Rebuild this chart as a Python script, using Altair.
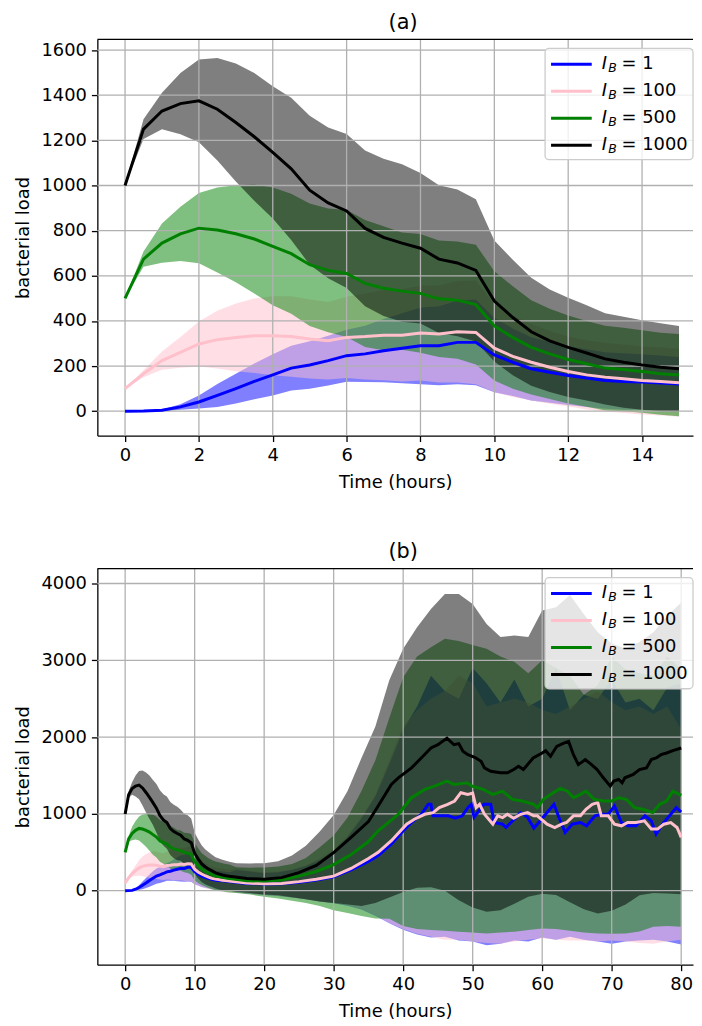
import altair as alt
import pandas as pd

FONT = "DejaVu Sans"
SERIES = ["1", "100", "500", "1000"]
COLORS = ["#0000ff", "#ffc0cb", "#008000", "#000000"]

# ---------------- Panel (a): 0-15 h, every 0.5 h ----------------
t_a = [0, 0.5, 1, 1.5, 2, 2.5, 3, 3.5, 4, 4.5, 5, 5.5, 6, 6.5, 7, 7.5,
       8, 8.5, 9, 9.5, 10, 10.5, 11, 11.5, 12, 12.5, 13, 13.5, 14, 14.5, 15]

blue_a_mean = [0, 1, 4, 19, 41, 70, 100, 132, 161, 191, 205, 224, 246, 254, 268, 279,
               290, 290, 305, 305, 249, 217, 188, 173, 158, 147, 136, 132, 129, 125, 120]
blue_a_sd = [0, 1, 4, 12, 29, 51, 66, 79, 91, 99, 105, 110, 115, 125, 140, 155,
             170, 175, 185, 190, 165, 150, 140, 135, 130, 128, 125, 125, 123, 122, 120]
pink_a_mean = [100, 166, 224, 261, 298, 317, 327, 334, 334, 331, 320, 312, 327, 331, 337, 337,
               346, 342, 352, 349, 279, 243, 217, 195, 176, 161, 151, 144, 136, 132, 126]
pink_a_sd = [0, 15, 40, 68, 100, 128, 150, 165, 175, 178, 175, 172, 180, 190, 200, 205,
             210, 215, 225, 230, 195, 180, 170, 162, 155, 153, 152, 152, 151, 151, 151]
green_a_mean = [500, 674, 745, 786, 811, 803, 786, 763, 730, 698, 649, 624, 610, 566, 545, 532,
                522, 498, 492, 472, 378, 327, 283, 254, 229, 210, 191, 185, 176, 166, 160]
green_a_sd = [0, 34, 87, 120, 156, 188, 215, 242, 261, 266, 271, 274, 281, 281, 275, 260,
              263, 258, 260, 265, 242, 227, 209, 200, 195, 190, 188, 185, 183, 182, 182]
black_a_mean = [1000, 1250, 1330, 1363, 1375, 1338, 1279, 1216, 1147, 1074, 979, 923, 887, 810, 770, 745,
                722, 674, 657, 624, 488, 415, 352, 312, 283, 258, 232, 217, 205, 195, 188]
black_a_sd = [0, 44, 81, 136, 183, 227, 261, 283, 293, 315, 330, 334, 341, 345, 348, 349,
              333, 327, 325, 315, 268, 256, 239, 227, 220, 211, 202, 202, 198, 195, 190]

# ---------------- Panel (b): 0-80 h ----------------
# mean curves after 15 h (first 15 h are the same runs as panel (a))
blue_b_t = [17.5, 20, 22.5, 25, 27.5, 30, 32.5, 35, 36.4, 38.3, 40, 41.2, 42.6, 43.6, 44,
            44.3, 45.2, 46.5, 47.5, 48.5, 49.3, 49.8, 50.2, 50.7, 51.6, 52.6, 53.1, 54.3, 54.8, 55.5,
            56.9, 57.9, 58.8, 59.3, 60.5, 61.7, 62.4, 63.3, 64.3, 65.5, 66.4, 67.6, 68.6, 69.5, 70.4,
            71.4, 72.3, 73.5, 74.8, 75.7, 76.4, 77.3, 78.5, 79.3, 80]
blue_b_v = [95, 88, 90, 110, 140, 180, 270, 380, 458, 608, 781, 888, 995, 1125, 1125,
            975, 975, 975, 944, 975, 1082, 1125, 957, 1017, 1125, 1125, 888, 866, 823, 888,
            1017, 957, 815, 866, 995, 1125, 957, 759, 866, 888, 845, 975, 995, 995, 1103,
            888, 845, 845, 975, 910, 736, 866, 995, 1082, 1025]
pink_b_t = [17.5, 20, 22.5, 25, 27.5, 30, 32.5, 35, 36.4, 38.3, 40.5, 41.6, 43.1, 44.3, 45.2,
            46.4, 47.4, 48.3, 49.3, 50, 50.5, 51, 51.7, 52.9, 53.6, 54.3, 55, 55.9, 56.9, 57.9,
            58.8, 59.3, 60.7, 61.8, 62.8, 63.5, 64.5, 65.5, 66.3, 67.2, 68, 68.5, 69.5, 70.4, 71.4,
            72.3, 73.5, 74.7, 75.7, 76.6, 77.5, 78.5, 79.4, 80]
pink_b_v = [100, 90, 95, 118, 150, 190, 290, 420, 500, 651, 866, 931, 995, 1017, 1082,
            1125, 1168, 1276, 1254, 1270, 1082, 1125, 995, 866, 975, 952, 995, 944, 995, 1017,
            975, 975, 866, 823, 866, 888, 975, 975, 1060, 1125, 1146, 975, 975, 866, 845,
            888, 888, 910, 802, 802, 866, 888, 823, 694]
green_b_t = [17.5, 20, 22.5, 25, 27.5, 30, 32.5, 35, 36.4, 39.3, 41.2, 43.1, 44.5, 46.3, 47.3,
             49.2, 49.9, 51.5, 52.9, 54.3, 55.7, 57.1, 58.8, 59.3, 60.2, 61.2, 62.6, 63.6, 64.5, 65.5,
             66.3, 67.5, 68.8, 70, 71, 72.1, 73.3, 74.5, 75.9, 76.9, 77.9, 78.8, 80]
green_b_v = [130, 125, 140, 190, 250, 340, 470, 640, 780, 995, 1211, 1319, 1362, 1427, 1384,
             1405, 1362, 1319, 1254, 1297, 1189, 1168, 1125, 1082, 1189, 1254, 1332, 1297, 1211, 1254,
             1297, 1189, 1168, 1168, 1211, 1189, 1082, 1060, 1017, 1125, 1168, 1297, 1241]
black_b_t = [17.5, 20, 22.5, 25, 27.5, 30, 32.5, 35, 36.4, 38.3, 39.3, 41.2, 42.6, 44, 45,
             46.3, 47.3, 48, 48.6, 49.3, 50.3, 51.2, 51.7, 52.6, 54, 55, 55.9, 56.6, 57.3, 58.7,
             60, 60.5, 61.2, 62.1, 63.1, 63.8, 64.5, 65.2, 66.2, 67.1, 67.9, 68.8, 69.8, 70.3, 71,
             71.5, 71.9, 73.1, 74, 75, 75.7, 76.4, 77.1, 77.9, 78.8, 80]
black_b_v = [160, 148, 170, 235, 330, 495, 694, 900, 1104, 1383, 1470, 1599, 1728, 1858, 1901,
             1987, 1901, 1915, 1815, 1771, 1738, 1686, 1599, 1556, 1535, 1535, 1578, 1621, 1578, 1728,
             1793, 1823, 1750, 1880, 1922, 1944, 1771, 1642, 1707, 1642, 1578, 1470, 1362, 1427, 1448,
             1405, 1470, 1513, 1578, 1599, 1707, 1728, 1771, 1793, 1823, 1858]

# spread bands after 15 h (lower / upper edge), every 2 h
band_b_t = [16, 18, 20, 22, 24, 26, 28, 30, 32, 34, 36, 38, 40, 42, 44, 46, 48,
            50, 52, 54, 56, 58, 60, 62, 64, 66, 68, 70, 72, 74, 76, 78, 80]
blue_b_lo = [-25, -40, -55, -70, -90, -110, -140, -165, -195, -245, -325, -425, -510, -570, -610, -600, -650,
             -660, -710, -690, -650, -660, -610, -640, -600, -640, -660, -690, -660, -650, -640, -660, -700]
blue_b_hi = [270, 250, 230, 240, 270, 320, 400, 520, 700, 940, 1230, 1650, 2100, 2400, 2800, 2600, 2500,
             2900, 2700, 2450, 2750, 2400, 2500, 2900, 2350, 2550, 2500, 2750, 2450, 2500, 2350, 2650, 2700]
pink_b_lo = [-30, -40, -55, -70, -90, -110, -140, -160, -190, -240, -320, -420, -500, -560, -600, -640, -640,
             -660, -680, -690, -660, -640, -620, -640, -650, -650, -660, -650, -660, -680, -690, -660, -640]
pink_b_hi = [290, 260, 240, 250, 280, 330, 420, 540, 720, 960, 1250, 1700, 2150, 2350, 2500, 2600, 2800,
             2700, 2400, 2450, 2500, 2450, 2350, 2300, 2400, 2500, 2600, 2450, 2350, 2400, 2300, 2400, 2100]
green_b_lo = [-30, -50, -80, -100, -130, -160, -200, -254, -290, -330, -362, -365, -460, -500, -512, -520, -534,
              -545, -556, -545, -534, -512, -491, -500, -520, -545, -556, -562, -556, -530, -469, -460, -469]
green_b_hi = [306, 300, 302, 315, 349, 427, 565, 720, 953, 1298, 1700, 2250, 2780, 3050, 3170, 3280, 3250,
              3200, 3150, 3050, 2980, 2830, 3000, 2900, 2800, 2550, 2680, 3050, 2880, 2830, 2800, 3050, 2890]
black_b_lo = [-15, -30, -50, -60, -85, -110, -140, -160, -180, -200, -160, -90, -17, 40, 45, 0, -124,
              -220, -275, -253, -170, -80, -39, -55, -150, -240, -297, -260, -180, -60, -30, -35, -47]
black_b_hi = [358, 355, 358, 384, 457, 586, 772, 985, 1298, 1728, 2138, 2740, 3151, 3431, 3668, 3862, 3862,
              3732, 3474, 3302, 3323, 3302, 3650, 3690, 3850, 3600, 3366, 3220, 3151, 3237, 3366, 3581, 3754]

xticks_a = [0, 2, 4, 6, 8, 10, 12, 14]
yticks_a = [0, 200, 400, 600, 800, 1000, 1200, 1400, 1600]
xticks_b = [0, 10, 20, 30, 40, 50, 60, 70, 80]
yticks_b = [0, 1000, 2000, 3000, 4000]

W, H = 600, 399
LW = 3
FS = 18

means_a = [blue_a_mean, pink_a_mean, green_a_mean, black_a_mean]
sds_a = [blue_a_sd, pink_a_sd, green_a_sd, black_a_sd]
late_t = [blue_b_t, pink_b_t, green_b_t, black_b_t]
late_v = [blue_b_v, pink_b_v, green_b_v, black_b_v]
late_lo = [blue_b_lo, pink_b_lo, green_b_lo, black_b_lo]
late_hi = [blue_b_hi, pink_b_hi, green_b_hi, black_b_hi]

bands_a, lines_a, bands_b, lines_b = [], [], [], []
for k in range(4):
    lo = [m - s for m, s in zip(means_a[k], sds_a[k])]
    hi = [m + s for m, s in zip(means_a[k], sds_a[k])]
    bands_a.append(pd.DataFrame({"t": t_a, "lo": lo, "hi": hi}))
    lines_a.append(pd.DataFrame({"t": t_a, "v": means_a[k]}))
    bands_b.append(pd.DataFrame({"t": t_a + band_b_t, "lo": lo + late_lo[k], "hi": hi + late_hi[k]}))
    lines_b.append(pd.DataFrame({"t": t_a + late_t[k], "v": means_a[k] + late_v[k]}))

dummy = pd.DataFrame({"d": [0]})

# legend placement inside the plot (pixels from plot's top-left corner)
LX0, LX1, LY0, LY1 = 451, 600, 9, 121
ROW0, ROWSTEP = 25, 27.2


def panel(title, bands, lines, xdom, ydom, xticks, yticks):
    xs = alt.Scale(domain=xdom, nice=False, zero=False)
    ys = alt.Scale(domain=ydom, nice=False, zero=False)
    xax = alt.Axis(values=xticks, title="Time (hours)", format="d", grid=False)
    yax = alt.Axis(values=yticks, title="bacterial load", format="d", grid=False)
    layers = []
    for df, col in zip(bands, COLORS):
        layers.append(alt.Chart(df).mark_area(color=col, opacity=0.5, clip=True).encode(
            x=alt.X("t:Q", scale=xs, axis=xax),
            y=alt.Y("lo:Q", scale=ys, axis=yax),
            y2="hi:Q"))
    layers.append(alt.Chart(pd.DataFrame({"g": xticks})).mark_rule(
        color="#b0b0b0", strokeWidth=1.3).encode(x=alt.X("g:Q", scale=xs, axis=xax)))
    layers.append(alt.Chart(pd.DataFrame({"g": yticks})).mark_rule(
        color="#b0b0b0", strokeWidth=1.3).encode(y=alt.Y("g:Q", scale=ys, axis=yax)))
    for df, col in zip(lines, COLORS):
        layers.append(alt.Chart(df).mark_line(color=col, strokeWidth=LW, clip=True).encode(
            x=alt.X("t:Q", scale=xs, axis=xax),
            y=alt.Y("v:Q", scale=ys, axis=yax)))
    # legend (matplotlib style, with I_B labels)
    layers.append(alt.Chart(dummy).mark_rect(
        fill="white", fillOpacity=0.8, stroke="#cccccc", strokeWidth=1.3, cornerRadius=4).encode(
        x=alt.value(LX0), x2=alt.value(LX1), y=alt.value(LY0), y2=alt.value(LY1)))
    for i, (lab, col) in enumerate(zip(SERIES, COLORS)):
        ly = ROW0 + ROWSTEP * i
        layers.append(alt.Chart(dummy).mark_rule(color=col, strokeWidth=LW).encode(
            x=alt.value(LX0 + 6), x2=alt.value(LX0 + 47), y=alt.value(ly)))
        layers.append(alt.Chart(dummy).mark_text(
            text="I", font=FONT, fontSize=FS, fontStyle="italic", align="left",
            baseline="middle", color="black").encode(x=alt.value(LX0 + 57), y=alt.value(ly)))
        layers.append(alt.Chart(dummy).mark_text(
            text="B", font=FONT, fontSize=12.5, fontStyle="italic", align="left",
            baseline="middle", color="black").encode(x=alt.value(LX0 + 63.5), y=alt.value(ly + 4)))
        layers.append(alt.Chart(dummy).mark_text(
            text="= " + lab, font=FONT, fontSize=FS, align="left",
            baseline="middle", color="black").encode(x=alt.value(LX0 + 77), y=alt.value(ly)))
    layers.append(alt.Chart(dummy).mark_rule(color="black", strokeWidth=1.3).encode(
        x=alt.value(0), x2=alt.value(W), y=alt.value(0)))
    return alt.layer(*layers).properties(
        width=W, height=H,
        title=alt.TitleParams(title, frame="group", dx=8, offset=6))


pa = panel("(a)", bands_a, lines_a, [-0.75, 15.38], [-108, 1647], xticks_a, yticks_a)
pb = panel("(b)", bands_b, lines_b, [-4, 81.7], [-964, 4194], xticks_b, yticks_b)

chart = alt.vconcat(pa, pb, spacing=50).properties(
    padding={"left": 6, "top": 0, "right": 0, "bottom": 0}
).configure_view(stroke=None).configure_axis(
    domainColor="black", domainWidth=1.3, tickColor="black", tickWidth=1.3, tickSize=6,
    labelFont=FONT, labelFontSize=FS, labelColor="black", labelPadding=5,
    titleFont=FONT, titleFontSize=FS, titleColor="black", titleFontWeight="normal",
    titlePadding=9
).configure_title(font=FONT, fontSize=21, fontWeight="normal", color="black", anchor="middle")

chart.save("out.html", embed_options={"renderer": "svg", "actions": False})
